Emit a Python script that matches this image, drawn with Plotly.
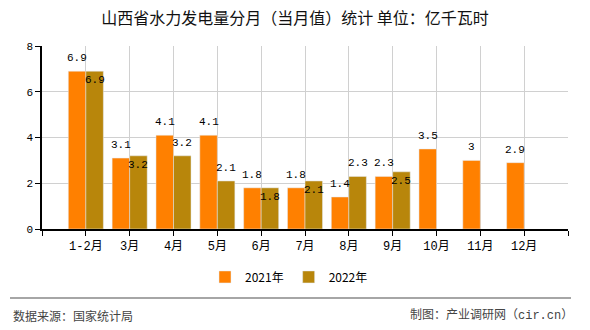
import plotly.graph_objects as go

categories = ["1-2月", "3月", "4月", "5月", "6月", "7月", "8月", "9月", "10月", "11月", "12月"]
values_2021 = [6.9, 3.1, 4.1, 4.1, 1.8, 1.8, 1.4, 2.3, 3.5, 3, 2.9]
values_2022 = [6.9, 3.2, 3.2, 2.1, 1.8, 2.1, 2.3, 2.5, None, None, None]
# label placement for 2022 series (moved inside where it would collide with the 2021 label)
label_inside_2022 = [True, True, False, False, True, True, False, True, False, False, False]
y_ticks = [0, 2, 4, 6, 8]

xpos = list(range(len(categories)))
tickvals = [-1] + xpos + [len(categories)]
ticktext = [""] + categories + [""]

mono = "Liberation Mono, DejaVu Sans Mono, Noto Sans CJK SC, monospace"
cjk = "Noto Sans CJK SC, sans-serif"

def fmt(v):
    return "%g" % v

fig = go.Figure()
fig.add_trace(go.Bar(x=xpos, y=values_2021, name="2021年", marker_color="#FF8000"))
fig.add_trace(go.Bar(x=xpos, y=values_2022, name="2022年", marker_color="#B8860B"))

fig.update_layout(
    width=590, height=330,
    margin=dict(l=42, r=22, t=46, b=101),
    paper_bgcolor="white", plot_bgcolor="white",
    barmode="group", bargap=0.2, bargroupgap=0,
    title=dict(text="山西省水力发电量分月（当月值）统计 单位：亿千瓦时",
               x=0.5, xanchor="center", y=1 - 18 / 330, yanchor="middle",
               font=dict(family=cjk, size=16, color="#111")),
    legend=dict(orientation="h", x=0.5 - 16 / 526, xanchor="center", y=-0.262, yanchor="middle",
                font=dict(family=cjk, size=12, color="#000"),
                traceorder="normal"),
)
fig.update_xaxes(
    range=[-1, len(categories)], tickmode="array", tickvals=tickvals, ticktext=ticktext,
    showgrid=True, gridcolor="#d0d0d0", gridwidth=1,
    showline=True, linecolor="#000", linewidth=1.5,
    ticks="outside", ticklen=5, tickcolor="#000",
    tickfont=dict(family=mono, size=12, color="#000"), zeroline=False, fixedrange=True,
)
fig.update_yaxes(
    range=[0, 8], tickvals=y_ticks,
    showgrid=True, gridcolor="#d0d0d0", gridwidth=1,
    showline=True, linecolor="#000", linewidth=1.5,
    ticks="outside", ticklen=5, tickcolor="#000",
    tickfont=dict(family=mono, size=11, color="#000"), zeroline=False, fixedrange=True,
)

half_bar_px = 526 / 12 * 0.2
for i, v in enumerate(values_2021):
    fig.add_annotation(x=i, y=v, xref="x", yref="y", text=fmt(v), showarrow=False,
                       xshift=-half_bar_px, yshift=13, yanchor="middle",
                       font=dict(family=mono, size=11, color="#000"))
for i, v in enumerate(values_2022):
    if v is None:
        continue
    fig.add_annotation(x=i, y=v, xref="x", yref="y", text=fmt(v), showarrow=False,
                       xshift=half_bar_px, yshift=-9 if label_inside_2022[i] else 13,
                       yanchor="middle",
                       font=dict(family=mono, size=11, color="#000"))

fig.add_shape(type="line", xref="paper", yref="paper",
              x0=(10 - 42) / 526, x1=(571 - 42) / 526,
              y0=(229 - 298) / 183, y1=(229 - 298) / 183,
              line=dict(color="#888", width=1.5))
fig.add_annotation(text="数据来源：国家统计局", xref="paper", yref="paper",
                   x=(11 - 42) / 526, y=(229 - 315) / 183, xanchor="left", yanchor="middle",
                   showarrow=False, font=dict(family=cjk, size=12, color="#444"))
fig.add_annotation(text="制图：产业调研网（cir.cn）", xref="paper", yref="paper",
                   x=(575 - 42) / 526, y=(229 - 315) / 183, xanchor="right", yanchor="middle",
                   showarrow=False, font=dict(family=mono, size=12, color="#444"))

fig.write_html("out.html")
